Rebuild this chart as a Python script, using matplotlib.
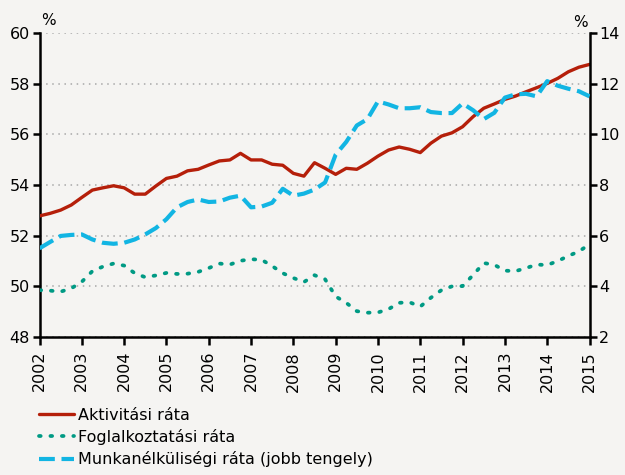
import matplotlib
matplotlib.use("Agg")
import matplotlib.pyplot as plt
import numpy as np

# Quarterly data, 2002Q1 .. 2015Q1
years_start = 2002
n_quarters = 53

activity = [52.78, 52.88, 53.01, 53.21, 53.51, 53.80, 53.89, 53.97, 53.89, 53.64,
            53.64, 53.96, 54.26, 54.35, 54.56, 54.62, 54.79, 54.95, 54.99, 55.25,
            54.99, 54.99, 54.82, 54.78, 54.46, 54.35, 54.88, 54.66, 54.42, 54.66,
            54.62, 54.86, 55.14, 55.38, 55.50, 55.41, 55.28, 55.65, 55.93, 56.06,
            56.30, 56.70, 57.03, 57.20, 57.38, 57.51, 57.68, 57.84, 58.01, 58.21,
            58.47, 58.65, 58.76]

employment = [49.85, 49.83, 49.79, 49.92, 50.18, 50.60, 50.78, 50.90, 50.82, 50.52,
              50.36, 50.43, 50.53, 50.49, 50.50, 50.57, 50.72, 50.90, 50.86, 51.01,
              51.07, 51.05, 50.80, 50.52, 50.33, 50.17, 50.44, 50.28, 49.60, 49.35,
              49.02, 48.96, 48.97, 49.10, 49.35, 49.37, 49.20, 49.55, 49.85, 50.00,
              50.01, 50.45, 50.92, 50.85, 50.62, 50.60, 50.72, 50.86, 50.84, 51.00,
              51.20, 51.38, 51.66]

unemployment = [5.50, 5.75, 5.99, 6.03, 6.05, 5.85, 5.72, 5.68, 5.72, 5.85,
                6.05, 6.30, 6.65, 7.12, 7.33, 7.43, 7.33, 7.35, 7.50, 7.58,
                7.12, 7.15, 7.30, 7.85, 7.58, 7.66, 7.82, 8.10, 9.20, 9.70,
                10.35, 10.60, 11.30, 11.18, 11.03, 11.03, 11.07, 10.88, 10.84, 10.84,
                11.22, 10.95, 10.60, 10.85, 11.45, 11.58, 11.60, 11.50, 12.10, 11.92,
                11.80, 11.70, 11.50]

year_ticks = list(range(2002, 2016))
left_ticks = [48, 50, 52, 54, 56, 58, 60]
right_ticks = [2, 4, 6, 8, 10, 12, 14]

labels = ["Aktivitási ráta", "Foglalkoztatási ráta",
          "Munkanélküliségi ráta (jobb tengely)"]

RED = "#B51F0A"
GREEN = "#009A84"
BLUE = "#12B5E3"
BG = "#F5F4F2"

plt.rcParams['font.family'] = ['DejaVu Sans']

x = years_start + np.arange(n_quarters) / 4.0

fig = plt.figure(figsize=(6.25, 4.75), dpi=100, facecolor=BG)
ax = fig.add_axes([0.0632, 0.2905, 0.88, 0.64])
ax.set_facecolor(BG)
ax2 = ax.twinx()

l1, = ax.plot(x, activity, color=RED, lw=2.4, solid_capstyle='round',
              solid_joinstyle='round', zorder=3)
l2, = ax.plot(x, employment, color=GREEN, lw=2.7,
              linestyle=(0, (0.45, 2.6)), dash_capstyle='round', zorder=3)
l3, = ax2.plot(x, unemployment, color=BLUE, lw=3.0,
               linestyle=(0, (3.8, 1.6)), zorder=3)

ax.set_xlim(2002, 2015)
ax.set_ylim(48, 60)
ax2.set_ylim(2, 14)
ax.set_yticks(left_ticks)
ax2.set_yticks(right_ticks)
ax.set_xticks(year_ticks)
ax.set_xticklabels([str(y) for y in year_ticks], rotation=90)

ax.grid(axis='y', color='#A8A8A8', linestyle=(0, (1.0, 3.0)), lw=1.1)
ax.set_axisbelow(True)

for a in (ax, ax2):
    a.spines['top'].set_visible(False)
    for s in ('left', 'right', 'bottom'):
        a.spines[s].set_linewidth(1.8)
        a.spines[s].set_color('black')
ax.spines['right'].set_visible(False)
ax2.spines['left'].set_visible(False)
ax2.spines['bottom'].set_visible(False)

ax.tick_params(axis='both', direction='out', length=5, width=1.8,
               labelsize=11.5, pad=2, colors='black')
ax2.tick_params(axis='y', direction='out', length=5, width=1.8,
                labelsize=11.5, pad=2, colors='black')
ax.tick_params(axis='x', length=6, pad=4)

ax.text(0.003, 1.015, "%", transform=ax.transAxes, fontsize=11, ha='left', va='bottom')
ax2.text(0.997, 1.01, "%", transform=ax2.transAxes, fontsize=11, ha='right', va='bottom')

fig.legend([l1, l2, l3], labels, loc='upper left',
           bbox_to_anchor=(0.062, 0.142), bbox_transform=fig.transFigure,
           frameon=False, fontsize=11.5, handlelength=2.2, handletextpad=0.25,
           labelspacing=0.4, borderaxespad=0.0, borderpad=0.0)

fig.savefig("out.png", dpi=100, facecolor=BG)
